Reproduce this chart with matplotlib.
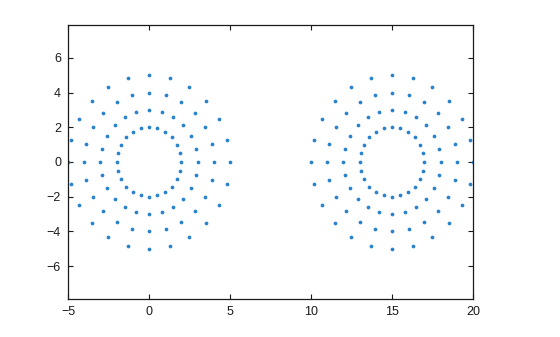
"""Two rings of concentric dot circles."""
import numpy as np
import matplotlib
matplotlib.use("Agg")
import matplotlib.pyplot as plt

plt.rcParams["font.family"] = ["Liberation Sans", "DejaVu Sans"]

CENTERS_X = [0, 15]
CENTERS_Y = [0, 0]
RADII = [2, 3, 4, 5]
ANGLES_DEG = [0, 15, 30, 45, 60, 75, 90, 105, 120, 135, 150, 165,
              180, 195, 210, 225, 240, 255, 270, 285, 300, 315, 330, 345]
X_TICKS = [-5, 0, 5, 10, 15, 20]
Y_TICKS = [-6, -4, -2, 0, 2, 4, 6]

COLOR = "#2a82cc"

fig = plt.figure(figsize=(5.6, 3.37), dpi=100)
ax = fig.add_axes([0.1214, 0.1128, 0.7232, 0.813])

ang = np.deg2rad(ANGLES_DEG)
for cx, cy in zip(CENTERS_X, CENTERS_Y):
    for r in RADII:
        ax.plot(cx + r * np.cos(ang), cy + r * np.sin(ang), linestyle="none",
                marker="o", markersize=2.7, markeredgewidth=0, color=COLOR)

ax.set_xlim(-5, 20)
ax.set_ylim(-7.9, 7.9)
ax.set_xticks(X_TICKS)
ax.set_yticks(Y_TICKS)
ax.tick_params(direction="in", length=3.5, width=0.8, top=True, right=True,
               labelsize=9, pad=5, colors="#1a1a1a")
for s in ax.spines.values():
    s.set_linewidth(0.9)
    s.set_color("#1a1a1a")

fig.savefig("out.png", dpi=100)
